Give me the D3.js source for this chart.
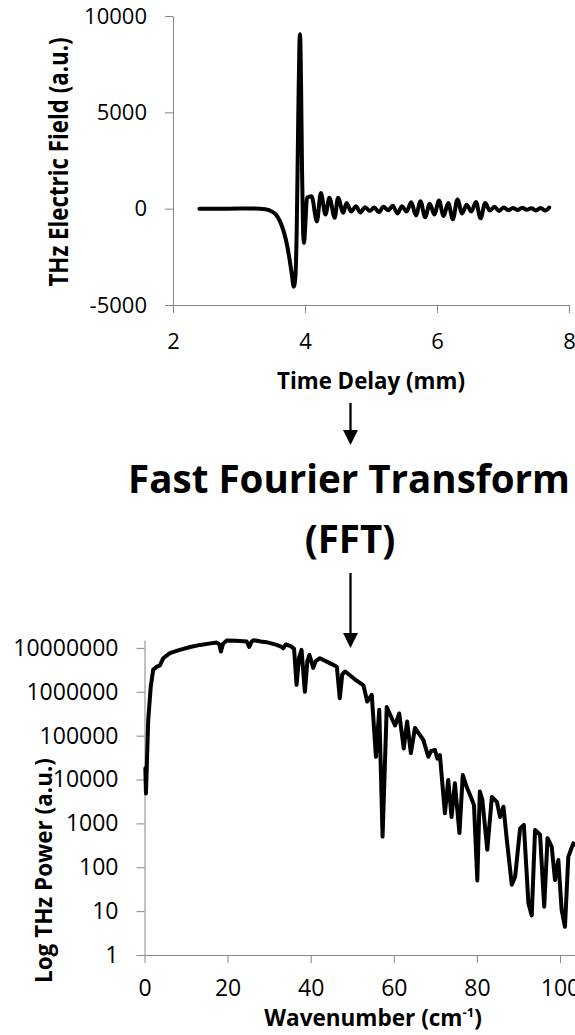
<!DOCTYPE html>
<html><head><meta charset="utf-8">
<script src="https://cdn.jsdelivr.net/npm/d3@7"></script>
<style>
html,body{margin:0;padding:0;background:#fff;}
svg{display:block;font-family:"Open Sans",sans-serif;}
</style></head><body>
<svg id="c" width="575" height="1035"></svg>
<script>
// ---- Top chart: THz time-domain waveform ----
const timeX = [2.40,2.80,3.20,3.40,3.50,3.58,3.65,3.71,3.76,3.80,3.83,3.855,3.875,3.895,3.915,3.925,3.94,3.955,3.97,3.985,4.005,4.03,
  4.10,4.18,4.24,4.31,4.37,4.45,4.50,4.58,4.63,4.70,4.77,4.84,4.91,4.98,5.05,5.12,5.19,5.26,5.33,5.40,5.47,5.54,5.61,5.68,5.75,5.82,5.89,5.96,
  6.03,6.10,6.17,6.24,6.31,6.38,6.45,6.52,6.59,6.66,6.73,6.80,6.87,6.94,7.01,7.08,7.15,7.22,7.29,7.36,7.43,7.50,7.57,7.64,7.70];
const fieldY = [0,0,15,-30,-150,-400,-900,-1600,-2500,-3400,-4050,-3500,-1000,4000,8500,9050,6500,2000,-1000,-1780,-800,570,
  640,-660,810,-300,570,-470,570,-210,300,-150,120,-200,80,-120,60,-180,100,-80,150,-250,120,-150,330,-350,380,-450,250,-300,
  420,-380,300,-550,480,-250,200,-150,350,-500,300,-100,100,-120,60,-80,40,-70,50,-60,20,-90,40,-100,60];
const timeTicks = [2,4,6,8];
const fieldTicks = [-5000,0,5000,10000];

// ---- Bottom chart: FFT power spectrum ----
const waveK = [0.2,0.35,0.9,1.5,2.1,2.9,3.7,4.5,6.1,8.5,11,13.4,15.5,17.4,18.0,18.4,18.9,19.8,22,24.6,25.2,25.7,26.2,28,29.4,31.8,33.0,33.4,34.0,35.3,36.0,36.6,37.2,37.8,38.6,39.2,39.7,40.6,41.2,42.2,44.6,46.3,47.0,47.6,48.3,50.7,52.7,53.6,54.7,55.7,56.5,57.3,58.3,60.3,61.3,62.4,63.2,64.1,65.1,67.1,68.3,69.0,69.9,70.5,71.1,72.3,73.1,73.9,74.7,75.8,76.6,77.5,78.7,79.3,80.1,80.7,81.3,82.5,83.6,84.8,85.6,86.4,87.2,88.4,89.2,90.4,91.3,92.4,93.2,94.0,95.2,96.2,97.0,98.0,98.8,99.6,100.4,101.2,102.0,103.2,104.5];
const powerV = [18000,4800,230000,1300000,3200000,3700000,4000000,5800000,7600000,9000000,10500000,11700000,12500000,13200000,12000000,8300000,12500000,14800000,14500000,14000000,10500000,13500000,15000000,14000000,13500000,11700000,10500000,9800000,12000000,10800000,9500000,1440000,6000000,9000000,1000000,5000000,6900000,3500000,5000000,5800000,4500000,3700000,710000,2500000,2900000,1900000,1400000,600000,850000,33000,390000,500,450000,170000,320000,51000,210000,40000,150000,80000,33000,45000,47000,30000,36000,1700,9800,1400,8200,600,12700,6900,3700,2600,50,5300,3500,250,4000,3100,1400,2400,420,40,61,770,920,15,8,710,550,12.6,460,295,51,146,10.6,4.4,174,350,300];
const waveTicks = [0,20,40,60,80,100];
const powerTicks = [1,10,100,1000,10000,100000,1000000,10000000];

const svg = d3.select("#c");
const AX = "#868686";
const plain = d => String(d);

function styleAxis(g, fs){
  g.select(".domain").attr("stroke", AX).attr("stroke-width", 1);
  g.selectAll(".tick line").attr("stroke", AX).attr("stroke-width", 1);
  g.selectAll(".tick text").attr("fill", "#000")
    .style("font-family", '"Open Sans", sans-serif').style("font-size", fs + "px");
  g.attr("font-family", null).attr("font-size", null);
}
function fit(sel, target){
  const w = sel.node().getComputedTextLength();
  const fs = parseFloat(sel.style("font-size"));
  const nfs = fs * target / w;
  sel.style("font-size", nfs + "px");
  return nfs;
}

// ===== Top chart =====
const x1 = d3.scaleLinear().domain([2, 8]).range([173, 569]);
const y1 = d3.scaleLinear().domain([-5000, 10000]).range([305, 16]);

svg.append("g").attr("transform", "translate(0,305)")
  .call(d3.axisBottom(x1).tickValues(timeTicks).tickFormat(plain).tickSize(8).tickSizeOuter(0).tickPadding(20))
  .call(g => styleAxis(g, 22));
svg.append("g").attr("transform", "translate(173,0)")
  .call(d3.axisLeft(y1).tickValues(fieldTicks).tickFormat(plain).tickSize(8).tickSizeOuter(0).tickPadding(18))
  .call(g => styleAxis(g, 22));

const line1 = d3.line().x((d,i) => x1(timeX[i])).y(d => y1(d)).curve(d3.curveMonotoneX);
svg.append("path").datum(fieldY).attr("d", line1)
  .attr("fill", "none").attr("stroke", "#000").attr("stroke-width", 4)
  .attr("stroke-linejoin", "round").attr("stroke-linecap", "round");

const t1 = svg.append("text").attr("x", 371).attr("y", 389).attr("text-anchor", "middle")
  .style("font-weight", "bold").style("font-size", "22px").text("Time Delay (mm)");
fit(t1, 188);
const t2 = svg.append("text").attr("text-anchor", "middle")
  .attr("transform", "translate(68,162) scale(1.2,1) rotate(-90)")
  .style("font-weight", "bold").style("font-size", "22px").text("THz Electric Field (a.u.)");
fit(t2, 249);

// ===== Middle: arrows + FFT title =====
function arrow(xc, y0, yHead, yTip){
  svg.append("line").attr("x1", xc).attr("x2", xc).attr("y1", y0).attr("y2", yHead + 2)
    .attr("stroke", "#000").attr("stroke-width", 2.3);
  svg.append("path").attr("d", `M${xc-7.5},${yHead}L${xc+7.5},${yHead}L${xc},${yTip}Z`).attr("fill", "#000");
}
arrow(350.5, 403, 430, 445);
arrow(350.5, 573, 633, 648);

const f1 = svg.append("text").attr("x", 349).attr("y", 493).attr("text-anchor", "middle")
  .style("font-weight", "bold").style("font-size", "38px").text("Fast Fourier Transform");
const ffs = fit(f1, 442);
svg.append("text").attr("x", 350).attr("y", 553).attr("text-anchor", "middle")
  .style("font-weight", "bold").style("font-size", ffs + "px").text("(FFT)");

// ===== Bottom chart =====
const x2 = d3.scaleLinear().domain([0, 104]).range([144.5, 144.5 + 4.155 * 104]);
const y2 = d3.scaleLog().domain([1, Math.pow(10, 7.18)]).range([955, 640]);

svg.append("g").attr("transform", "translate(0,955)")
  .call(d3.axisBottom(x2).tickValues(waveTicks).tickFormat(plain).tickSize(8).tickSizeOuter(0).tickPadding(17))
  .call(g => styleAxis(g, 23));
svg.append("g").attr("transform", "translate(144.5,0)")
  .call(d3.axisLeft(y2).tickValues(powerTicks).tickFormat(d3.format("d")).tickSize(8).tickSizeOuter(0).tickPadding(18))
  .call(g => styleAxis(g, 23));

const line2 = d3.line().x((d,i) => x2(waveK[i])).y(d => y2(d));
svg.append("path").datum(powerV).attr("d", line2)
  .attr("fill", "none").attr("stroke", "#000").attr("stroke-width", 4)
  .attr("stroke-linejoin", "round").attr("stroke-linecap", "round");

const b1 = svg.append("text").attr("x", 373).attr("y", 1026).attr("text-anchor", "middle")
  .style("font-weight", "bold").style("font-size", "22px");
b1.append("tspan").text("Wavenumber (cm");
b1.append("tspan").attr("dy", -9).style("font-size", "13px").text("-1");
b1.append("tspan").attr("dy", 9).text(")");
fit(b1, 218);
const b2 = svg.append("text").attr("text-anchor", "middle")
  .attr("transform", "translate(52,870.5) rotate(-90)")
  .style("font-weight", "bold").style("font-size", "22px").text("Log THz Power (a.u.)");
fit(b2, 225);
</script>
</body></html>
